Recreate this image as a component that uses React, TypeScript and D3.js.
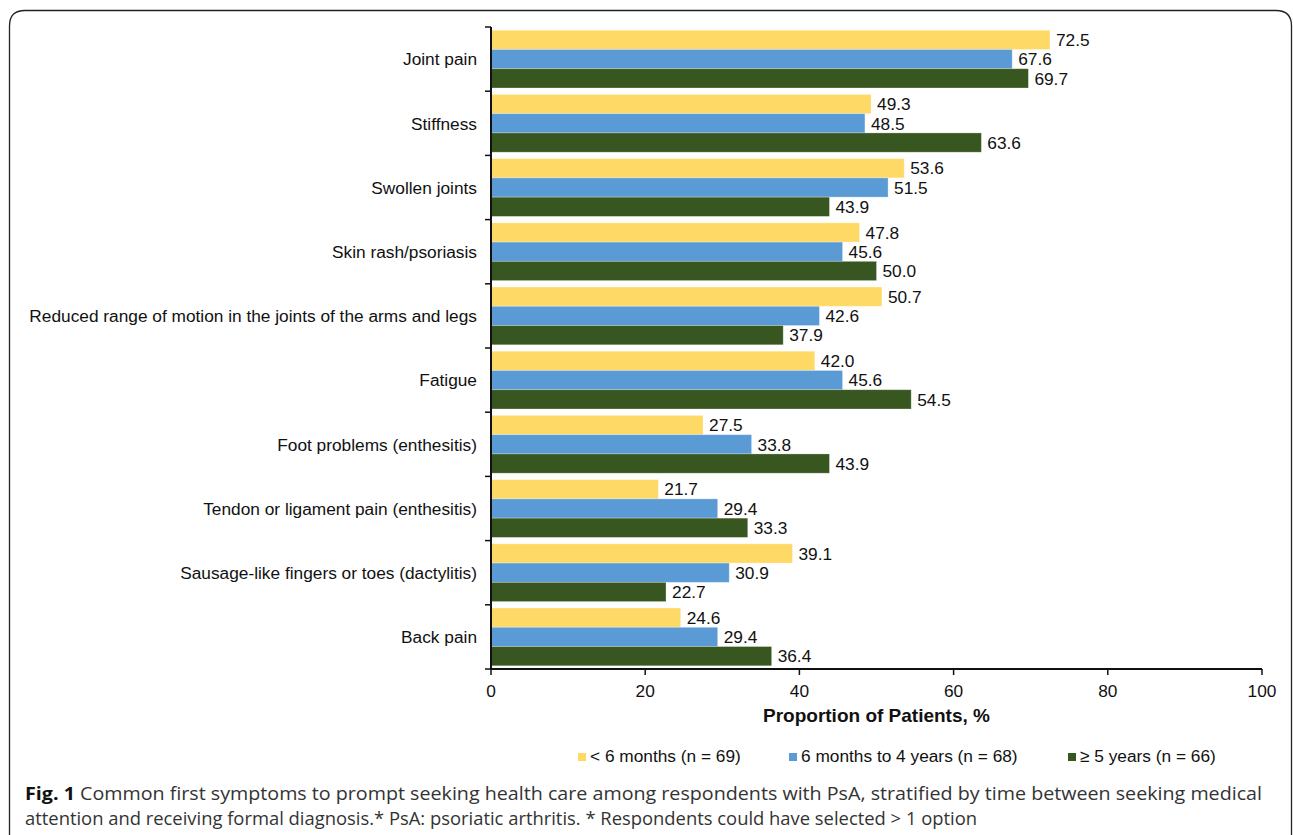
import React from "react";
import * as d3 from "d3";

const categories = [
  "Joint pain",
  "Stiffness",
  "Swollen joints",
  "Skin rash/psoriasis",
  "Reduced range of motion in the joints of the arms and legs",
  "Fatigue",
  "Foot problems (enthesitis)",
  "Tendon or ligament pain (enthesitis)",
  "Sausage-like fingers or toes (dactylitis)",
  "Back pain",
];
const seriesNames = ["< 6 months (n = 69)", "6 months to 4 years (n = 68)", "≥ 5 years (n = 66)"];
const lessThan6Months = [72.5, 49.3, 53.6, 47.8, 50.7, 42.0, 27.5, 21.7, 39.1, 24.6];
const sixMonthsTo4Years = [67.6, 48.5, 51.5, 45.6, 42.6, 45.6, 33.8, 29.4, 30.9, 29.4];
const fiveYearsPlus = [69.7, 63.6, 43.9, 50.0, 37.9, 54.5, 43.9, 33.3, 22.7, 36.4];
const xTicks = [0, 20, 40, 60, 80, 100];
const colors = ["#FFD966", "#5B9BD5", "#38561F"];

const W = 1293;
const H = 835;
const left = 491;
const right = 1262;
const top = 27;
const bottom = 669;
const FONT = "'Liberation Sans', Arial, sans-serif";
const FS = 17.3;

export default function App() {
  const series = [lessThan6Months, sixMonthsTo4Years, fiveYearsPlus];
  const x = d3.scaleLinear().domain([0, 100]).range([left, right]);
  const y = d3.scaleBand<string>().domain(categories).range([top, bottom]).paddingInner(0.1).paddingOuter(0.05);
  const yInner = d3.scaleBand<number>().domain([0, 1, 2]).range([0, y.bandwidth()]);
  const step = y.step();
  const boundaries = d3.range(categories.length + 1).map((i) => top + i * step);

  const legendX = [578, 789, 1068];

  return (
    <svg width={W} height={H} style={{ position: "absolute", left: 0, top: 0, background: "#fff" }}>
      <rect x={0} y={0} width={W} height={H} fill="#fff" />
      {/* frame */}
      <path
        d={`M9.5,${H + 20} L9.5,26 Q9.5,10.5 25,10.5 L1276,10.5 Q1291.5,10.5 1291.5,26 L1291.5,${H + 20}`}
        fill="none"
        stroke="#222"
        strokeWidth={1.3}
      />
      {/* bars */}
      {categories.map((c, i) =>
        series.map((s, j) => (
          <g key={c + j}>
            <rect
              x={x(0)}
              y={(y(c) as number) + (yInner(j) as number)}
              width={x(s[i]) - x(0)}
              height={yInner.bandwidth()}
              fill={colors[j]}
              stroke="#ffffff"
              strokeOpacity={0.35}
              strokeWidth={0.8}
            />
            <text
              x={x(s[i]) + 6}
              y={(y(c) as number) + (yInner(j) as number) + yInner.bandwidth() / 2}
              dy="0.36em"
              fontFamily={FONT}
              fontSize={FS}
              fill="#111"
            >
              {s[i].toFixed(1)}
            </text>
          </g>
        ))
      )}
      {/* y axis */}
      <line x1={left} x2={left} y1={top} y2={bottom} stroke="#111" strokeWidth={2} />
      {boundaries.map((b, i) => (
        <line key={"yt" + i} x1={left - 6} x2={left} y1={b} y2={b} stroke="#111" strokeWidth={1.5} />
      ))}
      {categories.map((c) => (
        <text
          key={"yl" + c}
          x={477}
          y={(y(c) as number) + y.bandwidth() / 2}
          dy="0.36em"
          textAnchor="end"
          fontFamily={FONT}
          fontSize={FS}
          fill="#111"
        >
          {c}
        </text>
      ))}
      {/* x axis */}
      <line x1={left - 1} x2={right} y1={bottom} y2={bottom} stroke="#111" strokeWidth={2} />
      {xTicks.map((t) => (
        <g key={"xt" + t}>
          <line x1={x(t)} x2={x(t)} y1={bottom} y2={bottom + 6} stroke="#111" strokeWidth={1.5} />
          <text x={x(t)} y={bottom + 28} textAnchor="middle" fontFamily={FONT} fontSize={FS} fill="#111">
            {t}
          </text>
        </g>
      ))}
      <text
        x={(left + right) / 2}
        y={722}
        textAnchor="middle"
        fontFamily={FONT}
        fontSize={19}
        fontWeight="bold"
        fill="#111"
      >
        Proportion of Patients, %
      </text>
      {/* legend */}
      {seriesNames.map((n, j) => (
        <g key={"lg" + j}>
          <rect x={legendX[j]} y={753} width={8} height={8} fill={colors[j]} />
          <text x={legendX[j] + 12} y={762} fontFamily={FONT} fontSize={FS} fill="#111">
            {n}
          </text>
        </g>
      ))}
      {/* caption */}
      <text
        x={25}
        y={800}
        fontFamily="'Open Sans', 'Noto Sans', sans-serif"
        fontSize={18.5}
        fill="#333"
        textLength={1237}
        lengthAdjust="spacingAndGlyphs"
      >
        <tspan fontWeight="bold" fill="#111">Fig. 1</tspan>
        <tspan> Common first symptoms to prompt seeking health care among respondents with PsA, stratified by time between seeking medical</tspan>
      </text>
      <text
        x={25}
        y={825}
        fontFamily="'Open Sans', 'Noto Sans', sans-serif"
        fontSize={18.5}
        fill="#333"
        textLength={952}
        lengthAdjust="spacingAndGlyphs"
      >
        attention and receiving formal diagnosis.* PsA: psoriatic arthritis. * Respondents could have selected &gt; 1 option
      </text>
    </svg>
  );
}
